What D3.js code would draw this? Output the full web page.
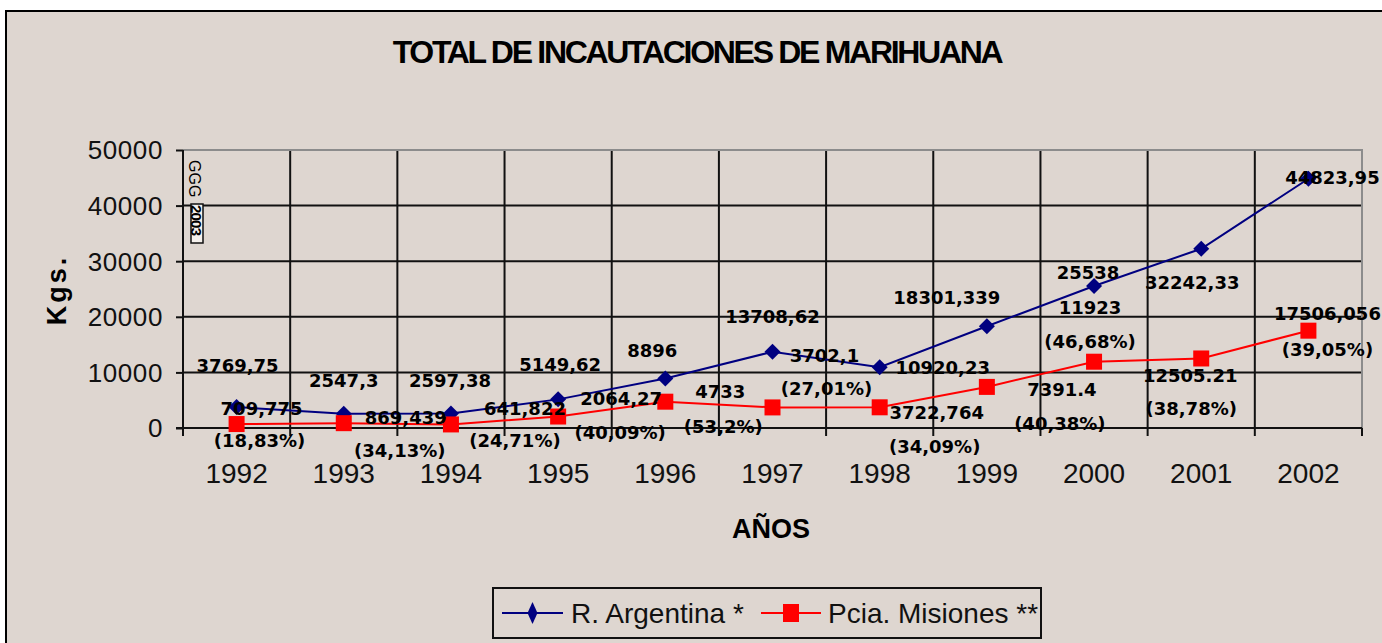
<!DOCTYPE html>
<html>
<head>
<meta charset="utf-8">
<script src="https://cdn.jsdelivr.net/npm/d3@7"></script>
<style>
  html, body { margin: 0; padding: 0; background: #fff; }
  svg { display: block; }
  .tick-y { font-family: "Liberation Sans", Arial, sans-serif; font-size: 26px; fill: #111; letter-spacing: 0.6px; }
  .tick-x { font-family: "Liberation Sans", Arial, sans-serif; font-size: 28px; fill: #111; }
  .val { font-family: "DejaVu Sans", sans-serif; font-weight: bold; font-size: 18px; fill: #000; }
</style>
</head>
<body>
<svg id="viz" width="1382" height="643"></svg>
<script>
(function() {
  const years = [1992, 1993, 1994, 1995, 1996, 1997, 1998, 1999, 2000, 2001, 2002];
  const argentina = [3769.75, 2547.3, 2597.38, 5149.62, 8896, 13708.62, 10920.23, 18301.339, 25538, 32242.33, 44823.95];
  const misiones = [709.775, 869.439, 641.822, 2064.27, 4733, 3702.1, 3722.764, 7391.4, 11923, 12505.21, 17506.056];
  const misionesPct = [18.83, 34.13, 24.71, 40.09, 53.2, 27.01, 34.09, 40.38, 46.68, 38.78, 39.05];
  // years whose Misiones label was typed with a dot instead of a comma
  const dotDecimalYears = [1999, 2001];
  const yTicks = [0, 10000, 20000, 30000, 40000, 50000];
  const seriesNames = ["R. Argentina *", "Pcia. Misiones **"];

  // label nudges (text centre relative to the point), layout only
  const argNudge = [[1,-42],[0,-33],[-1,-33],[2,-35],[-13,-28],[0,-35],[63,0],[-40,-29],[-6,-14],[-9,34],[24,-1]];
  const misNudge = [[25,-16],[62,-6],[74,-16],[63,-18],[55,-10],[52,-52],[57,5],[75,3],[-4,-54],[-11,17],[19,-17]];
  const pctNudge = [[23,16],[56,27],[64,16],[62,16],[58,25],[54,-19],[55,39],[73,37],[-4,-20],[-10,50],[19,19]];

  const BG = "#ded6d0";
  const BLUE = "#000080";
  const RED = "#ff0000";

  const svg = d3.select("#viz");

  // chart frame
  svg.append("rect")
    .attr("x", 6).attr("y", 11).attr("width", 1400).attr("height", 700)
    .attr("fill", BG).attr("stroke", "#000").attr("stroke-width", 2);

  const plot = { left: 183, right: 1362, top: 150, bottom: 428 };

  const x = d3.scaleBand().domain(years).range([plot.left, plot.right]).padding(0);
  const y = d3.scaleLinear().domain([0, 50000]).range([plot.bottom, plot.top]);
  const cx = d => x(d) + x.bandwidth() / 2;

  // title
  svg.append("text")
    .attr("x", 697).attr("y", 63)
    .attr("text-anchor", "middle")
    .style("font-family", "'Liberation Sans', Arial, sans-serif")
    .style("font-weight", "bold").style("font-size", "32px")
    .style("letter-spacing", "-2.3px")
    .text("TOTAL DE INCAUTACIONES DE MARIHUANA");

  const gridG = svg.append("g");

  // horizontal grid
  gridG.selectAll(".gy").data(yTicks.filter(v => v > 0 && v < 50000)).join("line")
    .attr("x1", plot.left).attr("x2", plot.right)
    .attr("y1", d => y(d)).attr("y2", d => y(d))
    .attr("stroke", "#111").attr("stroke-width", 2);

  // vertical grid + x tick marks at band boundaries
  const bounds = years.map(d => x(d)).concat([plot.right]);
  gridG.selectAll(".gx").data(bounds.slice(1, -1)).join("line")
    .attr("x1", d => d).attr("x2", d => d)
    .attr("y1", plot.top).attr("y2", plot.bottom + 8)
    .attr("stroke", "#111").attr("stroke-width", 2);

  // plot border (top / right) in grey
  gridG.append("path")
    .attr("d", `M${plot.left},${plot.top}H${plot.right}V${plot.bottom}`)
    .attr("fill", "none").attr("stroke", "#8c8c8c").attr("stroke-width", 2);
  gridG.append("line")
    .attr("x1", plot.right).attr("x2", plot.right)
    .attr("y1", plot.bottom).attr("y2", plot.bottom + 8)
    .attr("stroke", "#111").attr("stroke-width", 2);

  // y axis
  const yAxis = d3.axisLeft(y).tickValues(yTicks).tickSize(7).tickPadding(13).tickFormat(d3.format("d"));
  const yAxisG = svg.append("g").attr("transform", `translate(${plot.left},0)`).call(yAxis);
  yAxisG.select(".domain").remove();
  yAxisG.selectAll(".tick line").attr("stroke", "#111").attr("stroke-width", 2);
  yAxisG.selectAll(".tick text").attr("class", "tick-y").attr("dy", "0.34em").attr("fill", null);
  svg.append("line")
    .attr("x1", plot.left).attr("x2", plot.left)
    .attr("y1", plot.top).attr("y2", plot.bottom + 8)
    .attr("stroke", "#111").attr("stroke-width", 2);
  svg.append("line")
    .attr("x1", plot.left - 7).attr("x2", plot.right)
    .attr("y1", plot.bottom).attr("y2", plot.bottom)
    .attr("stroke", "#111").attr("stroke-width", 2);

  // x labels
  svg.append("g").selectAll("text").data(years).join("text")
    .attr("class", "tick-x")
    .attr("x", d => cx(d)).attr("y", 483)
    .attr("text-anchor", "middle")
    .text(d => d);

  // axis titles
  svg.append("text")
    .attr("transform", "translate(66,290) rotate(-90)")
    .attr("text-anchor", "middle")
    .style("font-family", "'Liberation Sans', Arial, sans-serif")
    .style("font-weight", "bold").style("font-size", "27px")
    .style("letter-spacing", "3px")
    .text("Kgs.");

  svg.append("text")
    .attr("x", 771).attr("y", 538)
    .attr("text-anchor", "middle")
    .style("font-family", "'Liberation Sans', Arial, sans-serif")
    .style("font-weight", "bold").style("font-size", "27px")
    .text("AÑOS");

  // stray rotated note near the top-left of the plot
  svg.append("text")
    .attr("transform", "translate(189,160) rotate(90)")
    .style("font-family", "'Liberation Sans', Arial, sans-serif")
    .style("font-size", "16px")
    .text("GGG");
  svg.append("rect")
    .attr("x", 191).attr("y", 204).attr("width", 12).attr("height", 39)
    .attr("fill", "#f4f0ec").attr("stroke", "#111").attr("stroke-width", 1.5);
  svg.append("text")
    .attr("transform", "translate(191,205) rotate(90)")
    .style("font-family", "'Liberation Sans', Arial, sans-serif")
    .style("font-weight", "bold").style("font-size", "15px").style("letter-spacing", "-0.8px")
    .text("2003");

  // lines
  const line = d3.line().x((d, i) => cx(years[i])).y(d => y(d));
  svg.append("path").datum(argentina).attr("d", line)
    .attr("fill", "none").attr("stroke", BLUE).attr("stroke-width", 2);
  svg.append("path").datum(misiones).attr("d", line)
    .attr("fill", "none").attr("stroke", RED).attr("stroke-width", 2);

  // markers
  const dia = (px, py, w, h) => `M${px},${py - h}L${px + w},${py}L${px},${py + h}L${px - w},${py}Z`;
  svg.append("g").selectAll("path").data(argentina).join("path")
    .attr("d", (d, i) => dia(cx(years[i]), y(d), 8, 8))
    .attr("fill", BLUE);
  svg.append("g").selectAll("rect").data(misiones).join("rect")
    .attr("x", (d, i) => cx(years[i]) - 8).attr("y", d => y(d) - 8)
    .attr("width", 16).attr("height", 16)
    .attr("fill", RED);

  // value labels
  const fmtVal = (v, sep) => String(v).replace(".", sep);
  const labG = svg.append("g");
  labG.selectAll(".arg").data(argentina).join("text")
    .attr("class", "val").attr("text-anchor", "middle")
    .attr("x", (d, i) => cx(years[i]) + argNudge[i][0])
    .attr("y", (d, i) => y(d) + argNudge[i][1] + 6.5)
    .text(d => fmtVal(d, ","));
  labG.selectAll(".mis").data(misiones).join("text")
    .attr("class", "val").attr("text-anchor", "middle")
    .attr("x", (d, i) => cx(years[i]) + misNudge[i][0])
    .attr("y", (d, i) => y(d) + misNudge[i][1] + 6.5)
    .text((d, i) => fmtVal(d, dotDecimalYears.includes(years[i]) ? "." : ","));
  labG.selectAll(".pct").data(misionesPct).join("text")
    .attr("class", "val").attr("text-anchor", "middle")
    .attr("x", (d, i) => cx(years[i]) + pctNudge[i][0])
    .attr("y", (d, i) => y(misiones[i]) + pctNudge[i][1] + 6.5)
    .text(d => "(" + fmtVal(d, ",") + "%)");

  // legend
  const lg = svg.append("g");
  lg.append("rect")
    .attr("x", 493).attr("y", 588).attr("width", 548).attr("height", 50)
    .attr("fill", BG).attr("stroke", "#111").attr("stroke-width", 2);
  const legendItems = [
    { name: seriesNames[0], color: BLUE, x0: 502, x1: 563, tx: 571, mark: "diamond" },
    { name: seriesNames[1], color: RED, x0: 761, x1: 821, tx: 828, mark: "square" }
  ];
  legendItems.forEach(it => {
    const my = 613, mx = (it.x0 + it.x1) / 2;
    lg.append("line").attr("x1", it.x0).attr("x2", it.x1).attr("y1", my).attr("y2", my)
      .attr("stroke", it.color).attr("stroke-width", 2);
    if (it.mark === "diamond") {
      lg.append("path").attr("d", dia(mx, my, 5, 11)).attr("fill", it.color);
    } else {
      lg.append("rect").attr("x", mx - 8).attr("y", my - 9).attr("width", 16).attr("height", 18).attr("fill", it.color);
    }
    lg.append("text")
      .attr("x", it.tx).attr("y", 623)
      .style("font-family", "'Liberation Sans', Arial, sans-serif")
      .style("font-size", "28px").attr("fill", "#111")
      .text(it.name);
  });
})();
</script>
</body>
</html>
